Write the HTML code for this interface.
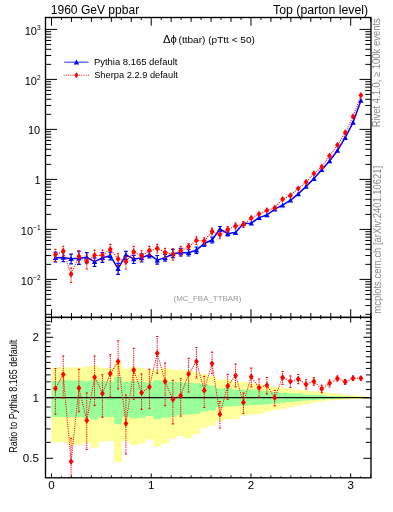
<!DOCTYPE html>
<html><head><meta charset="utf-8"><style>html,body{margin:0;padding:0;background:#fff;width:393px;height:512px;overflow:hidden}
svg{display:block;font-family:"Liberation Sans",sans-serif;will-change:transform}</style></head><body>
<svg width="393" height="512" viewBox="0 0 393 512">
<polygon fill="#ffff99" points="51.50,367.70 59.33,367.70 59.33,367.20 67.17,367.20 67.17,367.20 75.00,367.20 75.00,367.60 82.83,367.60 82.83,366.50 90.66,366.50 90.66,365.40 98.50,365.40 98.50,367.80 106.33,367.80 106.33,368.00 114.16,368.00 114.16,361.10 121.99,361.10 121.99,368.70 129.83,368.70 129.83,366.90 137.66,366.90 137.66,368.00 145.49,368.00 145.49,369.50 153.33,369.50 153.33,369.50 161.16,369.50 161.16,367.90 168.99,367.90 168.99,369.40 176.82,369.40 176.82,370.20 184.66,370.20 184.66,370.20 192.49,370.20 192.49,372.50 200.32,372.50 200.32,374.00 208.16,374.00 208.16,376.30 215.99,376.30 215.99,379.40 223.82,379.40 223.82,379.40 231.65,379.40 231.65,381.70 239.49,381.70 239.49,381.70 247.32,381.70 247.32,383.20 255.15,383.20 255.15,384.00 262.98,384.00 262.98,386.30 270.82,386.30 270.82,386.70 278.65,386.70 278.65,387.50 286.48,387.50 286.48,388.50 294.32,388.50 294.32,389.80 302.15,389.80 302.15,390.50 309.98,390.50 309.98,391.30 317.81,391.30 317.81,392.00 325.65,392.00 325.65,392.80 333.48,392.80 333.48,393.80 341.31,393.80 341.31,394.50 349.15,394.50 349.15,395.20 356.98,395.20 356.98,395.80 364.81,395.80 364.81,399.00 356.98,399.00 356.98,399.30 349.15,399.30 349.15,399.70 341.31,399.70 341.31,400.00 333.48,400.00 333.48,400.50 325.65,400.50 325.65,401.50 317.81,401.50 317.81,402.70 309.98,402.70 309.98,404.30 302.15,404.30 302.15,405.80 294.32,405.80 294.32,407.30 286.48,407.30 286.48,408.90 278.65,408.90 278.65,410.00 270.82,410.00 270.82,411.80 262.98,411.80 262.98,414.10 255.15,414.10 255.15,414.80 247.32,414.80 247.32,415.60 239.49,415.60 239.49,419.00 231.65,419.00 231.65,419.40 223.82,419.40 223.82,421.00 215.99,421.00 215.99,425.50 208.16,425.50 208.16,427.80 200.32,427.80 200.32,434.00 192.49,434.00 192.49,438.00 184.66,438.00 184.66,436.00 176.82,436.00 176.82,438.80 168.99,438.80 168.99,443.40 161.16,443.40 161.16,446.60 153.33,446.60 153.33,439.50 145.49,439.50 145.49,443.40 137.66,443.40 137.66,445.00 129.83,445.00 129.83,441.10 121.99,441.10 121.99,461.90 114.16,461.90 114.16,441.10 106.33,441.10 106.33,441.50 98.50,441.50 98.50,447.80 90.66,447.80 90.66,442.40 82.83,442.40 82.83,444.70 75.00,444.70 75.00,444.70 67.17,444.70 67.17,442.30 59.33,442.30 59.33,442.30 51.50,442.30"/>
<polygon fill="#99ff99" points="51.50,381.00 59.33,381.00 59.33,380.00 67.17,380.00 67.17,380.50 75.00,380.50 75.00,380.50 82.83,380.50 82.83,381.20 90.66,381.20 90.66,379.80 98.50,379.80 98.50,381.20 106.33,381.20 106.33,381.70 114.16,381.70 114.16,377.10 121.99,377.10 121.99,381.70 129.83,381.70 129.83,381.00 137.66,381.00 137.66,381.70 145.49,381.70 145.49,382.50 153.33,382.50 153.33,380.20 161.16,380.20 161.16,380.90 168.99,380.90 168.99,381.60 176.82,381.60 176.82,382.40 184.66,382.40 184.66,382.40 192.49,382.40 192.49,383.20 200.32,383.20 200.32,383.90 208.16,383.90 208.16,385.50 215.99,385.50 215.99,388.60 223.82,388.60 223.82,387.80 231.65,387.80 231.65,389.40 239.49,389.40 239.49,389.40 247.32,389.40 247.32,389.40 255.15,389.40 255.15,390.10 262.98,390.10 262.98,390.90 270.82,390.90 270.82,392.00 278.65,392.00 278.65,392.80 286.48,392.80 286.48,393.20 294.32,393.20 294.32,393.60 302.15,393.60 302.15,394.40 309.98,394.40 309.98,394.80 317.81,394.80 317.81,395.10 325.65,395.10 325.65,395.90 333.48,395.90 333.48,396.20 341.31,396.20 341.31,396.50 349.15,396.50 349.15,396.80 356.98,396.80 356.98,397.00 364.81,397.00 364.81,398.00 356.98,398.00 356.98,398.10 349.15,398.10 349.15,398.30 341.31,398.30 341.31,398.60 333.48,398.60 333.48,398.90 325.65,398.90 325.65,399.40 317.81,399.40 317.81,400.00 309.98,400.00 309.98,400.50 302.15,400.50 302.15,401.20 294.32,401.20 294.32,402.00 286.48,402.00 286.48,402.70 278.65,402.70 278.65,403.50 270.82,403.50 270.82,404.20 262.98,404.20 262.98,404.90 255.15,404.90 255.15,404.90 247.32,404.90 247.32,405.70 239.49,405.70 239.49,406.00 231.65,406.00 231.65,406.50 223.82,406.50 223.82,407.20 215.99,407.20 215.99,410.60 208.16,410.60 208.16,411.40 200.32,411.40 200.32,413.80 192.49,413.80 192.49,414.50 184.66,414.50 184.66,415.30 176.82,415.30 176.82,416.90 168.99,416.90 168.99,417.70 161.16,417.70 161.16,419.20 153.33,419.20 153.33,416.10 145.49,416.10 145.49,417.70 137.66,417.70 137.66,418.40 129.83,418.40 129.83,416.90 121.99,416.90 121.99,423.90 114.16,423.90 114.16,416.90 106.33,416.90 106.33,417.20 98.50,417.20 98.50,419.60 90.66,419.60 90.66,418.00 82.83,418.00 82.83,417.00 75.00,417.00 75.00,417.00 67.17,417.00 67.17,417.00 59.33,417.00 59.33,417.00 51.50,417.00"/>
<line x1="45.50" y1="397.6" x2="371.00" y2="397.6" stroke="#111" stroke-width="1.1"/>
<path d="M51.50 17.50V25.70M51.50 317.40V309.20M51.50 317.40V322.60M51.50 477.80V473.50M61.47 17.50V19.90M61.47 317.40V315.00M61.47 317.40V319.20M61.47 477.80V476.40M71.45 17.50V21.90M71.45 317.40V313.00M71.45 317.40V320.20M71.45 477.80V475.40M81.42 17.50V19.90M81.42 317.40V315.00M81.42 317.40V319.20M81.42 477.80V476.40M91.39 17.50V21.90M91.39 317.40V313.00M91.39 317.40V320.20M91.39 477.80V475.40M101.37 17.50V19.90M101.37 317.40V315.00M101.37 317.40V319.20M101.37 477.80V476.40M111.34 17.50V21.90M111.34 317.40V313.00M111.34 317.40V320.20M111.34 477.80V475.40M121.31 17.50V19.90M121.31 317.40V315.00M121.31 317.40V319.20M121.31 477.80V476.40M131.28 17.50V21.90M131.28 317.40V313.00M131.28 317.40V320.20M131.28 477.80V475.40M141.26 17.50V19.90M141.26 317.40V315.00M141.26 317.40V319.20M141.26 477.80V476.40M151.23 17.50V25.70M151.23 317.40V309.20M151.23 317.40V322.60M151.23 477.80V473.50M161.20 17.50V19.90M161.20 317.40V315.00M161.20 317.40V319.20M161.20 477.80V476.40M171.18 17.50V21.90M171.18 317.40V313.00M171.18 317.40V320.20M171.18 477.80V475.40M181.15 17.50V19.90M181.15 317.40V315.00M181.15 317.40V319.20M181.15 477.80V476.40M191.12 17.50V21.90M191.12 317.40V313.00M191.12 317.40V320.20M191.12 477.80V475.40M201.09 17.50V19.90M201.09 317.40V315.00M201.09 317.40V319.20M201.09 477.80V476.40M211.07 17.50V21.90M211.07 317.40V313.00M211.07 317.40V320.20M211.07 477.80V475.40M221.04 17.50V19.90M221.04 317.40V315.00M221.04 317.40V319.20M221.04 477.80V476.40M231.01 17.50V21.90M231.01 317.40V313.00M231.01 317.40V320.20M231.01 477.80V475.40M240.99 17.50V19.90M240.99 317.40V315.00M240.99 317.40V319.20M240.99 477.80V476.40M250.96 17.50V25.70M250.96 317.40V309.20M250.96 317.40V322.60M250.96 477.80V473.50M260.93 17.50V19.90M260.93 317.40V315.00M260.93 317.40V319.20M260.93 477.80V476.40M270.91 17.50V21.90M270.91 317.40V313.00M270.91 317.40V320.20M270.91 477.80V475.40M280.88 17.50V19.90M280.88 317.40V315.00M280.88 317.40V319.20M280.88 477.80V476.40M290.85 17.50V21.90M290.85 317.40V313.00M290.85 317.40V320.20M290.85 477.80V475.40M300.83 17.50V19.90M300.83 317.40V315.00M300.83 317.40V319.20M300.83 477.80V476.40M310.80 17.50V21.90M310.80 317.40V313.00M310.80 317.40V320.20M310.80 477.80V475.40M320.77 17.50V19.90M320.77 317.40V315.00M320.77 317.40V319.20M320.77 477.80V476.40M330.74 17.50V21.90M330.74 317.40V313.00M330.74 317.40V320.20M330.74 477.80V475.40M340.72 17.50V19.90M340.72 317.40V315.00M340.72 317.40V319.20M340.72 477.80V476.40M350.69 17.50V25.70M350.69 317.40V309.20M350.69 317.40V322.60M350.69 477.80V473.50M360.66 17.50V19.90M360.66 317.40V315.00M360.66 317.40V319.20M360.66 477.80V476.40M370.64 17.50V21.90M370.64 317.40V313.00M370.64 317.40V320.20M370.64 477.80V475.40M45.50 314.35H51.20M371.00 314.35H365.30M45.50 305.54H51.20M371.00 305.54H365.30M45.50 299.30H51.20M371.00 299.30H365.30M45.50 294.45H51.20M371.00 294.45H365.30M45.50 290.49H51.20M371.00 290.49H365.30M45.50 287.15H51.20M371.00 287.15H365.30M45.50 284.25H51.20M371.00 284.25H365.30M45.50 281.69H51.20M371.00 281.69H365.30M45.50 279.40H57.00M371.00 279.40H359.50M45.50 264.35H51.20M371.00 264.35H365.30M45.50 255.54H51.20M371.00 255.54H365.30M45.50 249.30H51.20M371.00 249.30H365.30M45.50 244.45H51.20M371.00 244.45H365.30M45.50 240.49H51.20M371.00 240.49H365.30M45.50 237.15H51.20M371.00 237.15H365.30M45.50 234.25H51.20M371.00 234.25H365.30M45.50 231.69H51.20M371.00 231.69H365.30M45.50 229.40H57.00M371.00 229.40H359.50M45.50 214.35H51.20M371.00 214.35H365.30M45.50 205.54H51.20M371.00 205.54H365.30M45.50 199.30H51.20M371.00 199.30H365.30M45.50 194.45H51.20M371.00 194.45H365.30M45.50 190.49H51.20M371.00 190.49H365.30M45.50 187.15H51.20M371.00 187.15H365.30M45.50 184.25H51.20M371.00 184.25H365.30M45.50 181.69H51.20M371.00 181.69H365.30M45.50 179.40H57.00M371.00 179.40H359.50M45.50 164.35H51.20M371.00 164.35H365.30M45.50 155.54H51.20M371.00 155.54H365.30M45.50 149.30H51.20M371.00 149.30H365.30M45.50 144.45H51.20M371.00 144.45H365.30M45.50 140.49H51.20M371.00 140.49H365.30M45.50 137.15H51.20M371.00 137.15H365.30M45.50 134.25H51.20M371.00 134.25H365.30M45.50 131.69H51.20M371.00 131.69H365.30M45.50 129.40H57.00M371.00 129.40H359.50M45.50 114.35H51.20M371.00 114.35H365.30M45.50 105.54H51.20M371.00 105.54H365.30M45.50 99.30H51.20M371.00 99.30H365.30M45.50 94.45H51.20M371.00 94.45H365.30M45.50 90.49H51.20M371.00 90.49H365.30M45.50 87.15H51.20M371.00 87.15H365.30M45.50 84.25H51.20M371.00 84.25H365.30M45.50 81.69H51.20M371.00 81.69H365.30M45.50 79.40H57.00M371.00 79.40H359.50M45.50 64.35H51.20M371.00 64.35H365.30M45.50 55.54H51.20M371.00 55.54H365.30M45.50 49.30H51.20M371.00 49.30H365.30M45.50 44.45H51.20M371.00 44.45H365.30M45.50 40.49H51.20M371.00 40.49H365.30M45.50 37.15H51.20M371.00 37.15H365.30M45.50 34.25H51.20M371.00 34.25H365.30M45.50 31.69H51.20M371.00 31.69H365.30M45.50 29.40H57.00M371.00 29.40H359.50M45.50 458.31H53.10M371.00 458.31H363.40M45.50 442.39H50.60M371.00 442.39H365.90M45.50 428.94H50.60M371.00 428.94H365.90M45.50 417.28H50.60M371.00 417.28H365.90M45.50 407.00H50.60M371.00 407.00H365.90M45.50 397.80H53.10M371.00 397.80H363.40M45.50 389.48H50.60M371.00 389.48H365.90M45.50 381.88H50.60M371.00 381.88H365.90M45.50 374.90H50.60M371.00 374.90H365.90M45.50 368.43H50.60M371.00 368.43H365.90M45.50 362.41H50.60M371.00 362.41H365.90M45.50 356.77H50.60M371.00 356.77H365.90M45.50 351.48H50.60M371.00 351.48H365.90M45.50 346.49H50.60M371.00 346.49H365.90M45.50 341.77H50.60M371.00 341.77H365.90M45.50 337.29H53.10M371.00 337.29H363.40M45.50 333.03H50.60M371.00 333.03H365.90M45.50 328.97H50.60M371.00 328.97H365.90M45.50 325.09H50.60M371.00 325.09H365.90M45.50 321.38H50.60M371.00 321.38H365.90" stroke="#000" stroke-width="1" fill="none"/>
<polyline fill="none" stroke="#0000ff" stroke-width="1.5" stroke-linejoin="round" points="55.42,257.80 63.25,257.50 71.08,258.80 78.91,258.30 86.75,257.30 94.58,261.60 102.41,257.80 110.25,255.80 118.08,268.60 125.91,254.80 133.74,258.90 141.58,257.90 149.41,254.60 157.24,260.10 165.08,257.60 172.91,254.00 180.74,252.40 188.57,252.70 196.41,250.10 204.24,243.50 212.07,240.00 219.90,229.00 227.74,233.60 235.57,232.60 243.40,223.50 251.24,223.20 259.07,217.60 266.90,215.00 274.73,209.20 282.57,205.20 290.40,200.30 298.23,193.90 306.07,186.50 313.90,178.60 321.73,169.80 329.56,161.00 337.40,150.50 345.23,137.70 353.06,122.40 360.89,100.40"/>
<path d="M55.42 252.20V261.90M53.52 252.20H57.32M53.52 261.90H57.32M63.25 252.00V261.60M61.35 252.00H65.15M61.35 261.60H65.15M71.08 254.20V263.90M69.18 254.20H72.98M69.18 263.90H72.98M78.91 251.20V264.40M77.01 251.20H80.81M77.01 264.40H80.81M86.75 252.70V262.90M84.85 252.70H88.65M84.85 262.90H88.65M94.58 257.80V266.50M92.68 257.80H96.48M92.68 266.50H96.48M102.41 252.70V262.40M100.51 252.70H104.31M100.51 262.40H104.31M110.25 252.20V259.80M108.35 252.20H112.15M108.35 259.80H112.15M118.08 263.40V274.40M116.18 263.40H119.98M116.18 274.40H119.98M125.91 251.30V259.40M124.01 251.30H127.81M124.01 259.40H127.81M133.74 255.40V263.50M131.84 255.40H135.64M131.84 263.50H135.64M141.58 253.80V262.00M139.68 253.80H143.48M139.68 262.00H143.48M149.41 251.50V257.90M147.51 251.50H151.31M147.51 257.90H151.31M157.24 255.50V264.20M155.34 255.50H159.14M155.34 264.20H159.14M165.08 254.50V261.10M163.18 254.50H166.98M163.18 261.10H166.98M172.91 249.40V257.60M171.01 249.40H174.81M171.01 257.60H174.81M180.74 248.40V256.00M178.84 248.40H182.64M178.84 256.00H182.64M188.57 249.50V256.00M186.67 249.50H190.47M186.67 256.00H190.47M196.41 247.00V253.30M194.51 247.00H198.31M194.51 253.30H198.31M204.24 240.50V246.50M202.34 240.50H206.14M202.34 246.50H206.14M212.07 237.00V243.00M210.17 237.00H213.97M210.17 243.00H213.97M219.90 226.50V231.50M218.00 226.50H221.80M218.00 231.50H221.80M227.74 231.00V236.00M225.84 231.00H229.64M225.84 236.00H229.64" stroke="#0000ff" stroke-width="1.2" fill="none"/>
<polygon fill="#0000ff" points="55.42,255.20 52.72,260.10 58.12,260.10"/>
<polygon fill="#0000ff" points="63.25,254.90 60.55,259.80 65.95,259.80"/>
<polygon fill="#0000ff" points="71.08,256.20 68.38,261.10 73.78,261.10"/>
<polygon fill="#0000ff" points="78.91,255.70 76.21,260.60 81.61,260.60"/>
<polygon fill="#0000ff" points="86.75,254.70 84.05,259.60 89.45,259.60"/>
<polygon fill="#0000ff" points="94.58,259.00 91.88,263.90 97.28,263.90"/>
<polygon fill="#0000ff" points="102.41,255.20 99.71,260.10 105.11,260.10"/>
<polygon fill="#0000ff" points="110.25,253.20 107.55,258.10 112.95,258.10"/>
<polygon fill="#0000ff" points="118.08,266.00 115.38,270.90 120.78,270.90"/>
<polygon fill="#0000ff" points="125.91,252.20 123.21,257.10 128.61,257.10"/>
<polygon fill="#0000ff" points="133.74,256.30 131.04,261.20 136.44,261.20"/>
<polygon fill="#0000ff" points="141.58,255.30 138.88,260.20 144.28,260.20"/>
<polygon fill="#0000ff" points="149.41,252.00 146.71,256.90 152.11,256.90"/>
<polygon fill="#0000ff" points="157.24,257.50 154.54,262.40 159.94,262.40"/>
<polygon fill="#0000ff" points="165.08,255.00 162.38,259.90 167.78,259.90"/>
<polygon fill="#0000ff" points="172.91,251.40 170.21,256.30 175.61,256.30"/>
<polygon fill="#0000ff" points="180.74,249.80 178.04,254.70 183.44,254.70"/>
<polygon fill="#0000ff" points="188.57,250.10 185.87,255.00 191.27,255.00"/>
<polygon fill="#0000ff" points="196.41,247.50 193.71,252.40 199.11,252.40"/>
<polygon fill="#0000ff" points="204.24,240.90 201.54,245.80 206.94,245.80"/>
<polygon fill="#0000ff" points="212.07,237.40 209.37,242.30 214.77,242.30"/>
<polygon fill="#0000ff" points="219.90,226.40 217.20,231.30 222.60,231.30"/>
<polygon fill="#0000ff" points="227.74,231.00 225.04,235.90 230.44,235.90"/>
<polygon fill="#0000ff" points="235.57,230.00 232.87,234.90 238.27,234.90"/>
<polygon fill="#0000ff" points="243.40,220.90 240.70,225.80 246.10,225.80"/>
<polygon fill="#0000ff" points="251.24,220.60 248.54,225.50 253.94,225.50"/>
<polygon fill="#0000ff" points="259.07,215.00 256.37,219.90 261.77,219.90"/>
<polygon fill="#0000ff" points="266.90,212.40 264.20,217.30 269.60,217.30"/>
<polygon fill="#0000ff" points="274.73,206.60 272.03,211.50 277.43,211.50"/>
<polygon fill="#0000ff" points="282.57,202.60 279.87,207.50 285.27,207.50"/>
<polygon fill="#0000ff" points="290.40,197.70 287.70,202.60 293.10,202.60"/>
<polygon fill="#0000ff" points="298.23,191.30 295.53,196.20 300.93,196.20"/>
<polygon fill="#0000ff" points="306.07,183.90 303.37,188.80 308.77,188.80"/>
<polygon fill="#0000ff" points="313.90,176.00 311.20,180.90 316.60,180.90"/>
<polygon fill="#0000ff" points="321.73,167.20 319.03,172.10 324.43,172.10"/>
<polygon fill="#0000ff" points="329.56,158.40 326.86,163.30 332.26,163.30"/>
<polygon fill="#0000ff" points="337.40,147.90 334.70,152.80 340.10,152.80"/>
<polygon fill="#0000ff" points="345.23,135.10 342.53,140.00 347.93,140.00"/>
<polygon fill="#0000ff" points="353.06,119.80 350.36,124.70 355.76,124.70"/>
<polygon fill="#0000ff" points="360.89,97.80 358.19,102.70 363.59,102.70"/>
<polyline fill="none" stroke="#ff0000" stroke-width="1.2" stroke-dasharray="0.01 2.2" stroke-linecap="round" points="55.42,254.80 63.25,251.00 71.08,274.30 78.91,256.30 86.75,261.70 94.58,255.30 102.41,255.30 110.25,249.20 118.08,258.90 125.91,261.70 133.74,251.80 141.58,255.90 149.41,250.60 157.24,248.40 165.08,252.50 172.91,254.00 180.74,250.80 188.57,246.60 196.41,240.40 204.24,241.00 212.07,231.50 219.90,234.60 227.74,229.50 235.57,226.00 243.40,224.50 251.24,218.10 259.07,214.00 266.90,210.40 274.73,207.90 282.57,199.20 290.40,195.50 298.23,188.50 306.07,182.10 313.90,173.50 321.73,166.90 329.56,155.90 337.40,145.00 345.23,132.60 353.06,116.50 360.89,95.30"/>
<path d="M55.42 249.40V261.60M63.25 246.30V256.30M71.08 268.20V282.50M78.91 251.20V261.90M86.75 255.00V269.00M94.58 250.20V260.40M102.41 250.20V260.60M110.25 244.30V254.20M118.08 253.80V265.50M125.91 256.90V269.10M133.74 246.40V257.90M141.58 250.80V261.50M149.41 246.40V255.10M157.24 244.30V253.00M165.08 248.40V257.60M172.91 248.90V260.10M180.74 246.40V256.00M188.57 243.50V249.60M196.41 236.90V244.50M204.24 237.90V244.50M212.07 228.00V234.80M219.90 230.50V238.70M227.74 226.50V232.50M235.57 223.00V229.00M243.40 221.50V227.50" stroke="#ff0000" stroke-width="1.2" stroke-dasharray="0.01 1.8" stroke-linecap="round" fill="none"/>
<path d="M54.32 249.40H56.52M54.32 261.60H56.52M62.15 246.30H64.35M62.15 256.30H64.35M69.98 268.20H72.18M69.98 282.50H72.18M77.81 251.20H80.01M77.81 261.90H80.01M85.65 255.00H87.85M85.65 269.00H87.85M93.48 250.20H95.68M93.48 260.40H95.68M101.31 250.20H103.51M101.31 260.60H103.51M109.15 244.30H111.35M109.15 254.20H111.35M116.98 253.80H119.18M116.98 265.50H119.18M124.81 256.90H127.01M124.81 269.10H127.01M132.64 246.40H134.84M132.64 257.90H134.84M140.48 250.80H142.68M140.48 261.50H142.68M148.31 246.40H150.51M148.31 255.10H150.51M156.14 244.30H158.34M156.14 253.00H158.34M163.98 248.40H166.18M163.98 257.60H166.18M171.81 248.90H174.01M171.81 260.10H174.01M179.64 246.40H181.84M179.64 256.00H181.84M187.47 243.50H189.67M187.47 249.60H189.67M195.31 236.90H197.51M195.31 244.50H197.51M203.14 237.90H205.34M203.14 244.50H205.34M210.97 228.00H213.17M210.97 234.80H213.17M218.80 230.50H221.00M218.80 238.70H221.00M226.64 226.50H228.84M226.64 232.50H228.84M234.47 223.00H236.67M234.47 229.00H236.67M242.30 221.50H244.50M242.30 227.50H244.50" stroke="#ff0000" stroke-width="1" fill="none"/>
<polygon fill="#ff0000" points="55.42,251.50 57.82,254.80 55.42,258.10 53.02,254.80"/>
<polygon fill="#ff0000" points="63.25,247.70 65.65,251.00 63.25,254.30 60.85,251.00"/>
<polygon fill="#ff0000" points="71.08,271.00 73.48,274.30 71.08,277.60 68.68,274.30"/>
<polygon fill="#ff0000" points="78.91,253.00 81.31,256.30 78.91,259.60 76.51,256.30"/>
<polygon fill="#ff0000" points="86.75,258.40 89.15,261.70 86.75,265.00 84.35,261.70"/>
<polygon fill="#ff0000" points="94.58,252.00 96.98,255.30 94.58,258.60 92.18,255.30"/>
<polygon fill="#ff0000" points="102.41,252.00 104.81,255.30 102.41,258.60 100.01,255.30"/>
<polygon fill="#ff0000" points="110.25,245.90 112.65,249.20 110.25,252.50 107.85,249.20"/>
<polygon fill="#ff0000" points="118.08,255.60 120.48,258.90 118.08,262.20 115.68,258.90"/>
<polygon fill="#ff0000" points="125.91,258.40 128.31,261.70 125.91,265.00 123.51,261.70"/>
<polygon fill="#ff0000" points="133.74,248.50 136.14,251.80 133.74,255.10 131.34,251.80"/>
<polygon fill="#ff0000" points="141.58,252.60 143.98,255.90 141.58,259.20 139.18,255.90"/>
<polygon fill="#ff0000" points="149.41,247.30 151.81,250.60 149.41,253.90 147.01,250.60"/>
<polygon fill="#ff0000" points="157.24,245.10 159.64,248.40 157.24,251.70 154.84,248.40"/>
<polygon fill="#ff0000" points="165.08,249.20 167.48,252.50 165.08,255.80 162.68,252.50"/>
<polygon fill="#ff0000" points="172.91,250.70 175.31,254.00 172.91,257.30 170.51,254.00"/>
<polygon fill="#ff0000" points="180.74,247.50 183.14,250.80 180.74,254.10 178.34,250.80"/>
<polygon fill="#ff0000" points="188.57,243.30 190.97,246.60 188.57,249.90 186.17,246.60"/>
<polygon fill="#ff0000" points="196.41,237.10 198.81,240.40 196.41,243.70 194.01,240.40"/>
<polygon fill="#ff0000" points="204.24,237.70 206.64,241.00 204.24,244.30 201.84,241.00"/>
<polygon fill="#ff0000" points="212.07,228.20 214.47,231.50 212.07,234.80 209.67,231.50"/>
<polygon fill="#ff0000" points="219.90,231.30 222.30,234.60 219.90,237.90 217.50,234.60"/>
<polygon fill="#ff0000" points="227.74,226.20 230.14,229.50 227.74,232.80 225.34,229.50"/>
<polygon fill="#ff0000" points="235.57,222.70 237.97,226.00 235.57,229.30 233.17,226.00"/>
<polygon fill="#ff0000" points="243.40,221.20 245.80,224.50 243.40,227.80 241.00,224.50"/>
<polygon fill="#ff0000" points="251.24,214.80 253.64,218.10 251.24,221.40 248.84,218.10"/>
<polygon fill="#ff0000" points="259.07,210.70 261.47,214.00 259.07,217.30 256.67,214.00"/>
<polygon fill="#ff0000" points="266.90,207.10 269.30,210.40 266.90,213.70 264.50,210.40"/>
<polygon fill="#ff0000" points="274.73,204.60 277.13,207.90 274.73,211.20 272.33,207.90"/>
<polygon fill="#ff0000" points="282.57,195.90 284.97,199.20 282.57,202.50 280.17,199.20"/>
<polygon fill="#ff0000" points="290.40,192.20 292.80,195.50 290.40,198.80 288.00,195.50"/>
<polygon fill="#ff0000" points="298.23,185.20 300.63,188.50 298.23,191.80 295.83,188.50"/>
<polygon fill="#ff0000" points="306.07,178.80 308.47,182.10 306.07,185.40 303.67,182.10"/>
<polygon fill="#ff0000" points="313.90,170.20 316.30,173.50 313.90,176.80 311.50,173.50"/>
<polygon fill="#ff0000" points="321.73,163.60 324.13,166.90 321.73,170.20 319.33,166.90"/>
<polygon fill="#ff0000" points="329.56,152.60 331.96,155.90 329.56,159.20 327.16,155.90"/>
<polygon fill="#ff0000" points="337.40,141.70 339.80,145.00 337.40,148.30 335.00,145.00"/>
<polygon fill="#ff0000" points="345.23,129.30 347.63,132.60 345.23,135.90 342.83,132.60"/>
<polygon fill="#ff0000" points="353.06,113.20 355.46,116.50 353.06,119.80 350.66,116.50"/>
<polygon fill="#ff0000" points="360.89,92.00 363.29,95.30 360.89,98.60 358.49,95.30"/>
<svg x="45.50" y="317.40" width="325.50" height="160.40" viewBox="45.50 317.40 325.50 160.40" overflow="hidden">
<polyline fill="none" stroke="#ff0000" stroke-width="1.2" stroke-dasharray="0.01 2.2" stroke-linecap="round" points="55.42,388.60 63.25,374.50 71.08,461.60 78.91,388.10 86.75,420.40 94.58,377.20 102.41,393.60 110.25,373.60 118.08,361.50 125.91,423.60 133.74,370.10 141.58,392.80 149.41,387.00 157.24,353.30 165.08,381.40 172.91,399.50 180.74,395.50 188.57,374.00 196.41,361.50 204.24,390.40 212.07,363.60 219.90,414.20 227.74,386.10 235.57,375.60 243.40,402.50 251.24,376.70 259.07,387.70 266.90,385.30 274.73,397.80 282.57,377.60 290.40,381.40 298.23,379.10 306.07,384.40 313.90,381.40 321.73,388.90 329.56,383.30 337.40,378.50 345.23,381.90 353.06,378.20 360.89,378.20"/>
<path d="M55.42 368.60V414.20M63.25 356.00V398.00M71.08 438.40V494.00M78.91 369.30V411.80M86.75 393.00V449.30M94.58 356.00V405.60M102.41 374.80V417.30M110.25 354.80V397.00M118.08 340.80V388.90M125.91 395.00V454.00M133.74 348.30V399.30M141.58 374.00V409.50M149.41 369.30V408.70M157.24 336.50V373.30M165.08 363.10V405.60M172.91 380.30V423.90M180.74 378.70V416.10M188.57 358.40V392.00M196.41 347.50V378.00M204.24 376.40V407.50M212.07 352.20V373.30M219.90 401.70V428.00M227.74 374.40V399.40M235.57 364.20V386.90M243.40 393.10V413.40M251.24 368.10V386.90M259.07 379.00V397.00M266.90 377.50V393.90M274.73 390.50V405.80M282.57 371.50V384.40M290.40 376.00V387.50M298.23 374.50V383.70M306.07 379.80V389.00M313.90 377.60V385.20M321.73 385.20V392.80M329.56 380.00V387.00M337.40 376.00V381.00M345.23 379.50V384.50M353.06 376.00V380.50M360.89 376.50V380.00" stroke="#ff0000" stroke-width="1.2" stroke-dasharray="0.01 1.8" stroke-linecap="round" fill="none"/>
<path d="M54.32 368.60H56.52M54.32 414.20H56.52M62.15 356.00H64.35M62.15 398.00H64.35M69.98 438.40H72.18M69.98 494.00H72.18M77.81 369.30H80.01M77.81 411.80H80.01M85.65 393.00H87.85M85.65 449.30H87.85M93.48 356.00H95.68M93.48 405.60H95.68M101.31 374.80H103.51M101.31 417.30H103.51M109.15 354.80H111.35M109.15 397.00H111.35M116.98 340.80H119.18M116.98 388.90H119.18M124.81 395.00H127.01M124.81 454.00H127.01M132.64 348.30H134.84M132.64 399.30H134.84M140.48 374.00H142.68M140.48 409.50H142.68M148.31 369.30H150.51M148.31 408.70H150.51M156.14 336.50H158.34M156.14 373.30H158.34M163.98 363.10H166.18M163.98 405.60H166.18M171.81 380.30H174.01M171.81 423.90H174.01M179.64 378.70H181.84M179.64 416.10H181.84M187.47 358.40H189.67M187.47 392.00H189.67M195.31 347.50H197.51M195.31 378.00H197.51M203.14 376.40H205.34M203.14 407.50H205.34M210.97 352.20H213.17M210.97 373.30H213.17M218.80 401.70H221.00M218.80 428.00H221.00M226.64 374.40H228.84M226.64 399.40H228.84M234.47 364.20H236.67M234.47 386.90H236.67M242.30 393.10H244.50M242.30 413.40H244.50M250.14 368.10H252.34M250.14 386.90H252.34M257.97 379.00H260.17M257.97 397.00H260.17M265.80 377.50H268.00M265.80 393.90H268.00M273.63 390.50H275.83M273.63 405.80H275.83M281.47 371.50H283.67M281.47 384.40H283.67M289.30 376.00H291.50M289.30 387.50H291.50M297.13 374.50H299.33M297.13 383.70H299.33M304.97 379.80H307.17M304.97 389.00H307.17M312.80 377.60H315.00M312.80 385.20H315.00M320.63 385.20H322.83M320.63 392.80H322.83M328.46 380.00H330.66M328.46 387.00H330.66M336.30 376.00H338.50M336.30 381.00H338.50M344.13 379.50H346.33M344.13 384.50H346.33M351.96 376.00H354.16M351.96 380.50H354.16M359.79 376.50H361.99M359.79 380.00H361.99" stroke="#ff0000" stroke-width="1" fill="none"/>
<polygon fill="#ff0000" points="55.42,385.30 57.82,388.60 55.42,391.90 53.02,388.60"/>
<polygon fill="#ff0000" points="63.25,371.20 65.65,374.50 63.25,377.80 60.85,374.50"/>
<polygon fill="#ff0000" points="71.08,458.30 73.48,461.60 71.08,464.90 68.68,461.60"/>
<polygon fill="#ff0000" points="78.91,384.80 81.31,388.10 78.91,391.40 76.51,388.10"/>
<polygon fill="#ff0000" points="86.75,417.10 89.15,420.40 86.75,423.70 84.35,420.40"/>
<polygon fill="#ff0000" points="94.58,373.90 96.98,377.20 94.58,380.50 92.18,377.20"/>
<polygon fill="#ff0000" points="102.41,390.30 104.81,393.60 102.41,396.90 100.01,393.60"/>
<polygon fill="#ff0000" points="110.25,370.30 112.65,373.60 110.25,376.90 107.85,373.60"/>
<polygon fill="#ff0000" points="118.08,358.20 120.48,361.50 118.08,364.80 115.68,361.50"/>
<polygon fill="#ff0000" points="125.91,420.30 128.31,423.60 125.91,426.90 123.51,423.60"/>
<polygon fill="#ff0000" points="133.74,366.80 136.14,370.10 133.74,373.40 131.34,370.10"/>
<polygon fill="#ff0000" points="141.58,389.50 143.98,392.80 141.58,396.10 139.18,392.80"/>
<polygon fill="#ff0000" points="149.41,383.70 151.81,387.00 149.41,390.30 147.01,387.00"/>
<polygon fill="#ff0000" points="157.24,350.00 159.64,353.30 157.24,356.60 154.84,353.30"/>
<polygon fill="#ff0000" points="165.08,378.10 167.48,381.40 165.08,384.70 162.68,381.40"/>
<polygon fill="#ff0000" points="172.91,396.20 175.31,399.50 172.91,402.80 170.51,399.50"/>
<polygon fill="#ff0000" points="180.74,392.20 183.14,395.50 180.74,398.80 178.34,395.50"/>
<polygon fill="#ff0000" points="188.57,370.70 190.97,374.00 188.57,377.30 186.17,374.00"/>
<polygon fill="#ff0000" points="196.41,358.20 198.81,361.50 196.41,364.80 194.01,361.50"/>
<polygon fill="#ff0000" points="204.24,387.10 206.64,390.40 204.24,393.70 201.84,390.40"/>
<polygon fill="#ff0000" points="212.07,360.30 214.47,363.60 212.07,366.90 209.67,363.60"/>
<polygon fill="#ff0000" points="219.90,410.90 222.30,414.20 219.90,417.50 217.50,414.20"/>
<polygon fill="#ff0000" points="227.74,382.80 230.14,386.10 227.74,389.40 225.34,386.10"/>
<polygon fill="#ff0000" points="235.57,372.30 237.97,375.60 235.57,378.90 233.17,375.60"/>
<polygon fill="#ff0000" points="243.40,399.20 245.80,402.50 243.40,405.80 241.00,402.50"/>
<polygon fill="#ff0000" points="251.24,373.40 253.64,376.70 251.24,380.00 248.84,376.70"/>
<polygon fill="#ff0000" points="259.07,384.40 261.47,387.70 259.07,391.00 256.67,387.70"/>
<polygon fill="#ff0000" points="266.90,382.00 269.30,385.30 266.90,388.60 264.50,385.30"/>
<polygon fill="#ff0000" points="274.73,394.50 277.13,397.80 274.73,401.10 272.33,397.80"/>
<polygon fill="#ff0000" points="282.57,374.30 284.97,377.60 282.57,380.90 280.17,377.60"/>
<polygon fill="#ff0000" points="290.40,378.10 292.80,381.40 290.40,384.70 288.00,381.40"/>
<polygon fill="#ff0000" points="298.23,375.80 300.63,379.10 298.23,382.40 295.83,379.10"/>
<polygon fill="#ff0000" points="306.07,381.10 308.47,384.40 306.07,387.70 303.67,384.40"/>
<polygon fill="#ff0000" points="313.90,378.10 316.30,381.40 313.90,384.70 311.50,381.40"/>
<polygon fill="#ff0000" points="321.73,385.60 324.13,388.90 321.73,392.20 319.33,388.90"/>
<polygon fill="#ff0000" points="329.56,380.00 331.96,383.30 329.56,386.60 327.16,383.30"/>
<polygon fill="#ff0000" points="337.40,375.20 339.80,378.50 337.40,381.80 335.00,378.50"/>
<polygon fill="#ff0000" points="345.23,378.60 347.63,381.90 345.23,385.20 342.83,381.90"/>
<polygon fill="#ff0000" points="353.06,374.90 355.46,378.20 353.06,381.50 350.66,378.20"/>
<polygon fill="#ff0000" points="360.89,374.90 363.29,378.20 360.89,381.50 358.49,378.20"/>
</svg>
<rect x="45.50" y="17.50" width="325.50" height="299.90" fill="none" stroke="#000" stroke-width="1.35"/>
<rect x="45.50" y="317.40" width="325.50" height="160.40" fill="none" stroke="#000" stroke-width="1.35"/>
<line x1="64.2" y1="62.2" x2="88.6" y2="62.2" stroke="#0000ff" stroke-width="1.2" opacity="0.7"/>
<polygon fill="#0000ff" points="76.50,59.60 73.80,64.50 79.20,64.50"/>
<line x1="64.2" y1="75.2" x2="88.6" y2="75.2" stroke="#ff0000" stroke-width="1.2" stroke-dasharray="0.01 2.2" stroke-linecap="round" opacity="0.8"/>
<polygon fill="#ff0000" points="76.40,72.20 78.50,75.20 76.40,78.20 74.30,75.20"/>
<g font-family="Liberation Sans, sans-serif" transform="rotate(0.01 196 256)"><text x="93.87" y="64.70" font-size="9.70" fill="#000" textLength="83.57" lengthAdjust="spacingAndGlyphs">Pythia 8.165 default</text><text x="94.12" y="77.60" font-size="9.70" fill="#000" textLength="83.69" lengthAdjust="spacingAndGlyphs">Sherpa 2.2.9 default</text><text x="50.70" y="13.70" font-size="12.00" fill="#000" textLength="88.43" lengthAdjust="spacingAndGlyphs">1960 GeV ppbar</text><text x="273.04" y="13.70" font-size="12.00" fill="#000" textLength="94.99" lengthAdjust="spacingAndGlyphs">Top (parton level)</text><text x="163.03" y="42.70" font-size="10.50" fill="#000" textLength="13.91" lengthAdjust="spacingAndGlyphs">&#916;&#981;</text><text x="178.54" y="43.00" font-size="9.00" fill="#000" textLength="76.35" lengthAdjust="spacingAndGlyphs">(ttbar) (pTtt &lt; 50)</text><text x="173.61" y="301.10" font-size="8.10" fill="#999" textLength="67.90" lengthAdjust="spacingAndGlyphs">(MC_FBA_TTBAR)</text><text transform="translate(17.10,452.00) rotate(-90)" x="-0.67" y="0" font-size="10.00" fill="#000" textLength="113.00" lengthAdjust="spacingAndGlyphs">Ratio to Pythia 8.165 default</text><text transform="translate(380.40,126.60) rotate(-90)" x="-0.71" y="0" font-size="10.00" fill="#888" textLength="109.10" lengthAdjust="spacingAndGlyphs">Rivet 4.1.0, &#8805; 100k events</text><text transform="translate(380.70,312.90) rotate(-90)" x="-0.71" y="0" font-size="10.00" fill="#888" textLength="147.73" lengthAdjust="spacingAndGlyphs">mcplots.cern.ch [arXiv:2401.10621]</text><text y="34.70" text-anchor="end" font-size="11" x="40.6">10<tspan font-size="6.6" dy="-4.4">3</tspan></text><text y="84.70" text-anchor="end" font-size="11" x="40.6">10<tspan font-size="6.6" dy="-4.4">2</tspan></text><text x="40.20" y="134.00" font-size="11.00" text-anchor="end" fill="#000" >10</text><text x="40.60" y="183.80" font-size="11.00" text-anchor="end" fill="#000" >1</text><text y="234.70" text-anchor="end" font-size="11" x="40.6">10<tspan font-size="6.6" dy="-4.4">&#8722;1</tspan></text><text y="284.70" text-anchor="end" font-size="11" x="40.6">10<tspan font-size="6.6" dy="-4.4">&#8722;2</tspan></text><text x="39.00" y="341.29" font-size="11.60" text-anchor="end" fill="#000" >2</text><text x="38.90" y="401.80" font-size="11.60" text-anchor="end" fill="#000" >1</text><text x="38.90" y="462.31" font-size="11.60" text-anchor="end" fill="#000" >0.5</text><text x="51.60" y="489.00" font-size="11.60" text-anchor="middle" fill="#000" >0</text><text x="151.33" y="489.00" font-size="11.60" text-anchor="middle" fill="#000" >1</text><text x="251.06" y="489.00" font-size="11.60" text-anchor="middle" fill="#000" >2</text><text x="350.79" y="489.00" font-size="11.60" text-anchor="middle" fill="#000" >3</text></g>
</svg></body></html>
